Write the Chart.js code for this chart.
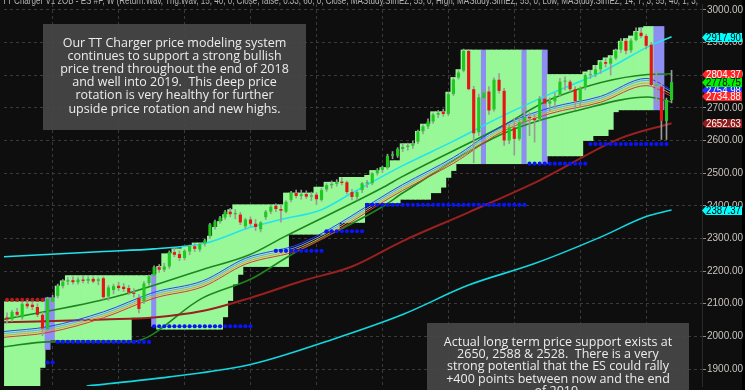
<!DOCTYPE html>
<html>
<head>
<meta charset="utf-8">
<script src="https://cdn.jsdelivr.net/npm/chart.js@4.4.0/dist/chart.umd.min.js"></script>
<style>
  html, body { margin: 0; padding: 0; background: #000; }
  canvas { display: block; }
</style>
</head>
<body>
<canvas id="chart" width="745" height="390"></canvas>
<script>
// weekly ES bars, oldest first (index = week number)
const opens = [2058,2052,2075,2058,2100,2097,2090,2066,2022,2106,
  2124,2154,2168,2172,2166,2174,2170,2176,2170,2178,
  2122,2142,2155,2152,2148,2134,2118,2108,2163,2186,
  2212,2204,2214,2258,2252,2240,2260,2276,2266,2284,
  2307,2335,2352,2364,2382,2374,2373,2337,2358,2345,
  2328,2365,2382,2400,2390,2382,2418,2439,2430,2436,
  2428,2434,2418,2450,2463,2467,2474,2472,2442,2427,
  2448,2468,2469,2500,2510,2517,2553,2553,2574,2580,
  2584,2596,2628,2643,2658,2679,2688,2681,2742,2793,
  2814,2874,2757,2625,2730,2750,2695,2786,2752,2600,
  2640,2605,2656,2672,2668,2665,2728,2713,2720,2740,
  2780,2780,2757,2722,2762,2800,2803,2818,2840,2835,
  2852,2878,2905,2876,2908,2930,2920,2893,2768,2765,
  2660,2724];
const highs = [2072,2080,2086,2106,2110,2106,2100,2074,2120,2126,
  2160,2174,2180,2182,2180,2186,2182,2182,2180,2182,
  2156,2160,2166,2162,2156,2146,2128,2168,2188,2216,
  2220,2224,2262,2272,2262,2266,2280,2284,2286,2298,
  2346,2356,2368,2386,2392,2388,2380,2362,2366,2358,
  2352,2386,2402,2406,2404,2416,2444,2448,2448,2446,
  2442,2440,2454,2468,2476,2480,2486,2476,2450,2446,
  2472,2478,2502,2514,2522,2558,2566,2578,2590,2592,
  2598,2632,2648,2666,2684,2692,2696,2748,2792,2814,
  2880,2878,2766,2742,2755,2765,2792,2805,2760,2650,
  2668,2670,2715,2685,2680,2735,2740,2730,2745,2790,
  2795,2785,2765,2765,2805,2815,2830,2845,2850,2860,
  2880,2912,2910,2912,2945,2945,2925,2900,2815,2780,
  2730,2815];
const lows = [2042,2046,2060,2052,2086,2082,2060,2002,2016,2100,
  2118,2148,2158,2160,2160,2164,2162,2164,2158,2114,
  2110,2130,2140,2138,2128,2120,2072,2100,2156,2180,
  2196,2198,2208,2244,2232,2234,2250,2260,2260,2276,
  2300,2328,2346,2358,2366,2360,2342,2330,2338,2324,
  2320,2358,2376,2382,2350,2378,2412,2424,2420,2422,
  2416,2404,2414,2444,2454,2460,2464,2436,2418,2418,
  2440,2456,2464,2494,2502,2512,2544,2548,2566,2570,
  2576,2590,2620,2636,2652,2670,2674,2676,2738,2788,
  2810,2755,2532,2615,2720,2680,2690,2745,2585,2590,
  2555,2600,2650,2615,2595,2660,2705,2690,2700,2735,
  2755,2750,2695,2705,2755,2790,2795,2805,2825,2800,
  2848,2870,2865,2870,2905,2915,2880,2765,2710,2603,
  2603,2715];
const closes = [2052,2075,2066,2100,2092,2090,2066,2024,2115,2118,
  2154,2168,2172,2166,2174,2170,2176,2168,2175,2120,
  2150,2154,2148,2145,2134,2130,2084,2162,2184,2212,
  2204,2214,2258,2250,2240,2262,2276,2268,2282,2294,
  2343,2352,2364,2382,2374,2378,2349,2358,2345,2335,
  2349,2382,2397,2390,2385,2412,2439,2430,2435,2428,
  2432,2420,2448,2463,2467,2472,2470,2442,2427,2442,
  2469,2472,2499,2510,2518,2553,2558,2574,2580,2584,
  2590,2628,2643,2658,2679,2684,2681,2742,2787,2808,
  2874,2757,2622,2732,2747,2692,2786,2752,2600,2640,
  2605,2656,2672,2668,2662,2728,2713,2720,2735,2780,
  2782,2757,2720,2760,2800,2803,2818,2840,2835,2852,
  2875,2903,2875,2906,2932,2920,2890,2770,2768,2660,
  2724,2779];

// price channel (green zone): [from week, price] steps
const zoneTopSteps = [[0,2106],[8,2118],[10,2154],[11,2170],[12,2186],[29,2190],[30,2214],[31,2253],
  [33,2268],[35,2276],[37,2286],[40,2307],[41,2334],[42,2352],[43,2373],[44,2388],[45,2403],
  [55,2439],[61,2457],[63,2472],[66,2487],[71,2493],[72,2508],[74,2517],[76,2538],[78,2590],
  [81,2628],[82,2650],[84,2688],[87,2748],[88,2793],[89,2817],[90,2877],[107,2802],[114,2810],
  [115,2815],[116,2830],[117,2845],[118,2853],[119,2860],[120,2877],[121,2904],[122,2912],
  [123,2920],[124,2934],[125,2945],[126,2949]];
const zoneBottomSteps = [[0,1840],[7,1905],[8,1960],[9,1989],[25,2058],[29,2031],[30,2022],
  [43,2060],[44,2110],[45,2160],[46,2190],[47,2214],[56,2313],[63,2325],[66,2349],[71,2409],
  [78,2420],[84,2440],[86,2457],[87,2487],[88,2508],[89,2529],[107,2553],[114,2600],[116,2615],
  [119,2634],[120,2688],[121,2694]];
const zoneLastWeek = 129;
const rotationWeeks = [8, 9, 29, 94, 102, 106, 128, 129];

// moving averages / bands: [week, price]
const cyanUpper = [[-0.6,2244],[19,2260],[29,2268],[39,2285],[48,2334],[54,2358],[62,2388],[68,2439],
  [78,2523],[88,2598],[97,2670],[107,2742],[117,2808],[127,2892],[131,2918]];
const cyanLower = [[15.7,1848],[32,1876],[48,1914],[64,1990],[78,2067],[91,2157],[104,2223],
  [117,2304],[126,2367],[131,2387]];
const maroonMA = [[-0.6,2043],[19,2052],[29,2058],[39,2079],[48,2118],[58,2169],[68,2214],[78,2292],
  [91,2380],[105,2478],[121,2607],[131,2653]];
const greenUpper = [[-0.6,2052],[21,2120],[38.6,2205],[47.8,2250],[54.9,2307],[74,2455],[78,2490],
  [97.5,2643],[107.3,2727],[126.3,2802],[131,2804]];
const greenLower = [[-0.6,1968],[8.2,1983],[24.3,1983],[38.6,2118],[48.4,2178],[55.7,2247],[74,2397],
  [78,2439],[97.5,2619],[113,2694],[126.3,2733],[131,2718]];
const maBlue = [[-0.6,2015],[8.2,2030],[19,2075],[29,2135],[38.6,2170],[47,2239],[58,2285],[78,2465],
  [88,2548],[97.5,2644],[107,2700],[117,2735],[126,2790],[131,2755]];
const maSky = [[-0.6,2009],[8.2,2024],[19,2069],[29,2129],[38.6,2164],[47,2233],[58,2279],[78,2459],
  [88,2542],[97.5,2638],[107,2694],[117,2729],[126,2784],[131,2750]];
const maOrange = [[-0.6,2003],[8.2,2018],[19,2063],[29,2123],[38.6,2158],[47,2227],[58,2273],[78,2453],
  [88,2536],[97.5,2632],[107,2688],[117,2723],[126,2776],[131,2742]];
const maRed = [[-0.6,1997],[8.2,2012],[19,2057],[29,2117],[38.6,2152],[47,2221],[58,2267],[78,2447],
  [88,2530],[97.5,2626],[107,2682],[117,2717],[126,2768],[131,2735]];

// support levels: [price, from week, to week]
const supports = [[1920,8,9],[1983,10,28],[2031,29,48],[2262,53,62],[2322,63,70],[2403,71,102],
  [2529,103,114],[2589,115,130]];
const resistance = [2112, 0, 7];

const yTicks = [1900,2000,2100,2200,2300,2400,2500,2600,2700,2800,2900,3000];
const gridWeeks = [9,22,35,48,61,74,87,100,113,126];

// last-value tags, drawn in this order (later ones on top)
const tagValues = [2387.37, 2652.63, 2754.98, 2734.88, 2804.37, 2778.75, 2917.90];
const tagFills = ['#00FFFF', '#8E1C1C', '#2030FF', '#FF2424', '#FF2424', '#00F000', '#00FFFF'];
const tagInk = ['#000', '#fff', '#fff', '#fff', '#fff', '#000', '#000'];

const titleText = 'TT Charger V1 2OB - ES #F, W (Return.Wav, Trig.Wav, 15, 40, 0, Close, false, 0.33, 60, 0, Close, MAStudy.SimEZ, 55, 0, High, MAStudy.SimEZ, 55, 0, Low, MAStudy.SimEZ, 14, 7, 3, 55, 40, 1, 3,';
const noteTop = [
  'Our TT Charger price modeling system',
  'continues to support a strong bullish',
  'price trend throughout the end of 2018',
  'and well into 2019.  This deep price',
  'rotation is very healthy for further',
  'upside price rotation and new highs.'
];
const noteBottom = [
  'Actual long term price support exists at',
  '2650, 2588 & 2528.  There is a very',
  'strong potential that the ES could rally',
  '+400 points between now and the end',
  'of 2019.'
];

// expand step lists into one value per week
function stepsToWeeks(steps, last) {
  const out = [];
  let k = 0;
  for (let i = 0; i <= last; i++) {
    while (k + 1 < steps.length && steps[k + 1][0] <= i) k++;
    out.push(steps[k][1]);
  }
  return out;
}
const zoneTop = stepsToWeeks(zoneTopSteps, zoneLastWeek);
const zoneBottom = stepsToWeeks(zoneBottomSteps, zoneLastWeek);

const toXY = arr => arr.map(p => ({ x: p[0], y: p[1] }));
const levelDots = lv => {
  const pts = [];
  for (let i = lv[1]; i <= lv[2]; i++) pts.push({ x: i, y: lv[0] });
  return pts;
};

function maLine(data, color, width, order) {
  return {
    type: 'line', data: toXY(data), borderColor: color, borderWidth: width,
    pointRadius: 0, cubicInterpolationMode: 'monotone', order: order
  };
}

const datasets = [
  {
    type: 'bar', grouped: false, order: 20,
    data: zoneTop.map((t, i) => ({ x: i, y: [zoneBottom[i], t] })),
    backgroundColor: zoneTop.map((t, i) => rotationWeeks.includes(i) ? '#8E8EF2' : '#98F898'),
    barPercentage: 1, categoryPercentage: 1, borderWidth: 0, inflateAmount: 0.4
  },
  maLine(cyanLower, '#12D8E0', 1.6, 10),
  maLine(maroonMA, '#9A2020', 2, 10),
  maLine(greenLower, '#1D861D', 1.6, 10),
  maLine(maRed, '#E03434', 1, 9),
  maLine(maOrange, '#DDA040', 1, 9),
  maLine(maSky, '#6E9CFF', 1, 9),
  maLine(maBlue, '#2A40FF', 1, 9),
  maLine(greenUpper, '#1D861D', 1.6, 10),
  maLine(cyanUpper, '#22E4EE', 1.6, 8),
];
supports.forEach(lv => datasets.push({
  type: 'line', data: levelDots(lv), showLine: false, order: 7,
  pointRadius: 2.1, pointBorderWidth: 0, pointBackgroundColor: '#0A14F5'
}));
datasets.push({
  type: 'line', data: levelDots(resistance), showLine: false, order: 7,
  pointRadius: 2, pointBorderWidth: 0, pointBackgroundColor: '#C01818'
});
datasets.push({
  type: 'bar', grouped: false, order: 3,
  data: highs.map((h, i) => ({ x: i, y: [lows[i], h] })),
  backgroundColor: '#9A9A9A', barThickness: 1, borderWidth: 0
});
datasets.push({
  type: 'bar', grouped: false, order: 2,
  data: opens.map((o, i) => ({ x: i, y: [o, closes[i]] })),
  backgroundColor: opens.map((o, i) => closes[i] >= o ? '#22C822' : '#E81414'),
  borderWidth: 0, barPercentage: 0.62, categoryPercentage: 1, minBarLength: 1
});

const backdrop = {
  id: 'backdrop',
  beforeDraw(chart) {
    const ctx = chart.ctx;
    ctx.save();
    ctx.fillStyle = '#0E0E0E';
    ctx.fillRect(0, 0, chart.width, chart.height);
    ctx.fillStyle = '#000';
    ctx.fillRect(742, 0, chart.width - 742, chart.height);
    ctx.restore();
  }
};

function drawNote(ctx, lines, box, firstY, step) {
  ctx.fillStyle = 'rgba(72,72,72,0.9)';
  ctx.fillRect(box[0], box[1], box[2] - box[0], box[3] - box[1]);
  ctx.fillStyle = '#EDEDED';
  ctx.font = '12.5px "Open Sans"';
  ctx.textAlign = 'center';
  ctx.textBaseline = 'middle';
  const cx = (box[0] + box[2]) / 2;
  lines.forEach((t, k) => ctx.fillText(t, cx, firstY + k * step));
}

const overlay = {
  id: 'overlay',
  afterDraw(chart) {
    const ctx = chart.ctx;
    const y = chart.scales.y;
    const left = chart.chartArea.right;
    ctx.save();
    // price tags on the axis
    ctx.font = '10px "Liberation Sans"';
    ctx.textBaseline = 'middle';
    ctx.textAlign = 'left';
    tagValues.forEach((v, k) => {
      const py = Math.round(y.getPixelForValue(v)) + 0.5;
      ctx.fillStyle = tagFills[k];
      ctx.beginPath();
      ctx.moveTo(left, py);
      ctx.lineTo(left + 4, py - 4.5);
      ctx.lineTo(left + 40, py - 4.5);
      ctx.lineTo(left + 40, py + 4.5);
      ctx.lineTo(left + 4, py + 4.5);
      ctx.closePath();
      ctx.fill();
      ctx.fillStyle = tagInk[k];
      ctx.fillText(v.toFixed(2), left + 4, py + 0.5, 35);
    });
    // study title, clipped at the top edge
    ctx.fillStyle = '#B4B4B4';
    ctx.font = '11px "Liberation Sans"';
    ctx.textBaseline = 'alphabetic';
    ctx.fillText(titleText, 2, 4, 696);
    drawNote(ctx, noteTop, [43, 24, 306, 130], 43, 13.2);
    drawNote(ctx, noteBottom, [427, 323, 689, 400], 342, 12.4);
    ctx.restore();
  }
};

new Chart(document.getElementById('chart'), {
  type: 'bar',
  data: { datasets: datasets },
  options: {
    responsive: false,
    animation: false,
    devicePixelRatio: 1,
    layout: { padding: 0 },
    plugins: { legend: { display: false }, tooltip: { enabled: false } },
    scales: {
      x: {
        type: 'linear', min: -0.59, max: 137.0, offset: false, z: 1,
        grid: { color: '#3A3A3A', offset: false, drawTicks: false },
        border: { display: false, dash: [3, 3] },
        ticks: { display: false },
        afterBuildTicks: s => { s.ticks = gridWeeks.map(v => ({ value: v })); },
        afterFit: s => { s.height = 0; s.paddingLeft = 0; s.paddingRight = 0; }
      },
      y: {
        position: 'right', min: 1848, max: 3018, z: 1,
        grid: { color: '#3A3A3A', tickLength: 4, tickColor: '#8A8A8A' },
        border: { display: true, color: '#2A2A2A', dash: [3, 3] },
        ticks: {
          color: '#C9C3BC', padding: 1,
          font: { family: 'Liberation Sans', size: 10 },
          callback: v => v.toFixed(2)
        },
        afterBuildTicks: s => { s.ticks = yTicks.map(v => ({ value: v })); },
        afterFit: s => { s.width = 43; s.paddingTop = 0; s.paddingBottom = 0; }
      }
    }
  },
  plugins: [backdrop, overlay]
});
</script>
</body>
</html>
